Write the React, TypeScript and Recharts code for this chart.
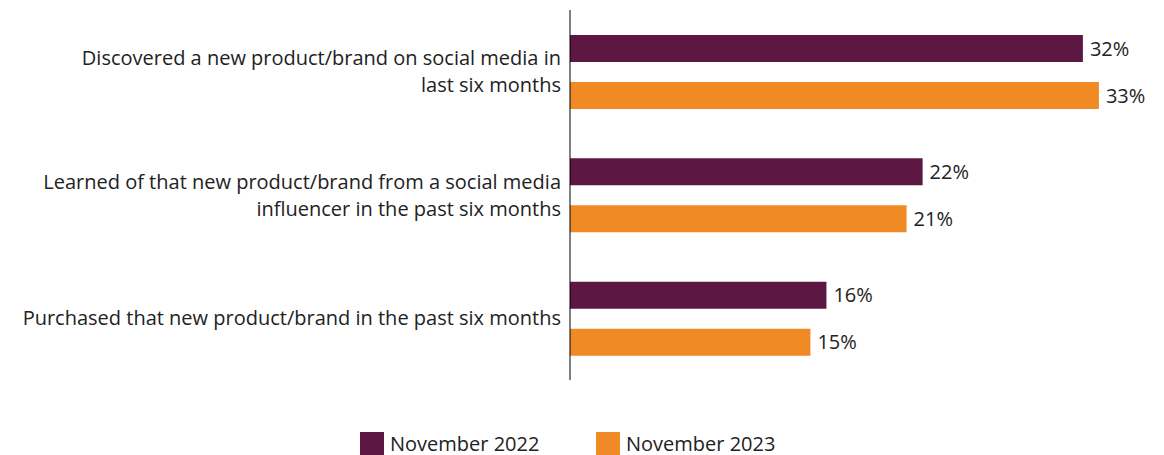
import { BarChart, Bar, XAxis, YAxis, LabelList } from "recharts";

const categories = [
  ["Discovered a new product/brand on social media in", "last six months"],
  ["Learned of that new product/brand from a social media", "influencer in the past six months"],
  ["Purchased that new product/brand in the past six months"],
];
const nov2022 = [32, 22, 16];
const nov2023 = [33, 21, 15];
const seriesNames = ["November 2022", "November 2023"];
const COLORS = ["#5C1742", "#F08A24"];

const FONT = "'Open Sans', sans-serif";

const data = categories.map((lines, i) => ({
  name: lines.join(" "),
  lines,
  nov2022: nov2022[i],
  nov2023: nov2023[i],
}));

const CategoryTick = (props: any) => {
  const { x, y, payload } = props;
  const item = data.find((d) => d.name === payload.value);
  const lines = item ? item.lines : [payload.value];
  const lh = 27;
  const start = y - ((lines.length - 1) * lh) / 2;
  return (
    <text textAnchor="end" fontFamily={FONT} fontSize={20} fill="#222">
      {lines.map((l: string, i: number) => (
        <tspan key={i} x={x - 1} y={start + i * lh} dy="0.35em">
          {l}
        </tspan>
      ))}
    </text>
  );
};

export default function App() {
  return (
    <div style={{ position: "absolute", left: 0, top: 0, width: 1164, height: 455, background: "#fff" }}>
      <BarChart
        width={1164}
        height={390}
        data={data}
        layout="vertical"
        margin={{ top: 10, right: 17, bottom: 10, left: 0 }}
        barGap={20}
        barSize={27}
      >
        <XAxis type="number" domain={[0, 36]} hide />
        <YAxis
          type="category"
          dataKey="name"
          width={570}
          tickLine={false}
          axisLine={{ stroke: "#000", strokeWidth: 1 }}
          tick={<CategoryTick />}
          interval={0}
        />
        <Bar dataKey="nov2022" fill={COLORS[0]} isAnimationActive={false}>
          <LabelList
            dataKey="nov2022"
            position="right"
            offset={7}
            formatter={(v: any) => `${v}%`}
            style={{ fontFamily: FONT, fontSize: 20, fill: "#222" }}
          />
        </Bar>
        <Bar dataKey="nov2023" fill={COLORS[1]} isAnimationActive={false}>
          <LabelList
            dataKey="nov2023"
            position="right"
            offset={7}
            formatter={(v: any) => `${v}%`}
            style={{ fontFamily: FONT, fontSize: 20, fill: "#222" }}
          />
        </Bar>
      </BarChart>
      <div
        style={{
          position: "absolute",
          top: 432,
          left: 360,
          display: "flex",
          fontFamily: FONT,
          fontSize: 20,
          color: "#222",
          lineHeight: "23px",
        }}
      >
        {seriesNames.map((n, i) => (
          <div key={n} style={{ display: "flex", alignItems: "center", width: i === 0 ? 236 : "auto" }}>
            <div style={{ width: 24, height: 23, background: COLORS[i], marginRight: 6 }} />
            <span>{n}</span>
          </div>
        ))}
      </div>
    </div>
  );
}
